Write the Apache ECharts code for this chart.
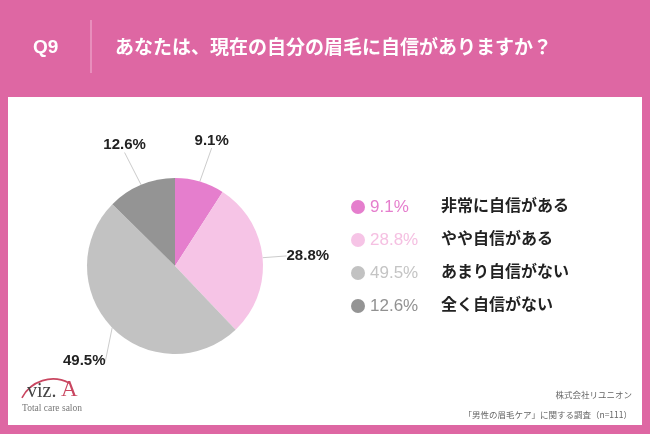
<!DOCTYPE html>
<html><head><meta charset="utf-8">
<script src="https://cdn.jsdelivr.net/npm/echarts@6/dist/echarts.min.js"></script>
<style>html,body{margin:0;padding:0;background:#fff}#c{width:650px;height:434px}</style>
</head><body><div id="c"></div>
<script>
var categories = ['非常に自信がある','やや自信がある','あまり自信がない','全く自信がない'];
var values = [9.1, 28.8, 49.5, 12.6];
var colors = ['#E57ECD','#F6C4E6','#C2C2C2','#949494'];
var legendPctColors = ['#E57ECD','#F5C0E2','#C4C4C4','#919191'];
var titleQ = 'Q9';
var titleText = 'あなたは、現在の自分の眉毛に自信がありますか？';
var note1 = '株式会社リユニオン';
var note2 = '「男性の眉毛ケア」に関する調査（n=111）';

var JP = "'Liberation Sans','Noto Sans CJK JP',sans-serif";
var chart = echarts.init(document.getElementById('c'), null, {renderer:'canvas'});

var rich = {};
values.forEach(function(v,i){
  rich['p'+i] = {color: legendPctColors[i], fontSize: 17, width: 71, fontFamily: JP, lineHeight: 20};
});
rich.n = {color:'#222', fontSize: 16, fontWeight:'bold', fontFamily: JP, lineHeight: 20};

var lineLens = [35, 19, 35, 35];

chart.setOption({
  animation: false,
  graphic: [
    {type:'rect', shape:{x:0,y:0,width:650,height:434}, style:{fill:'#DE67A3'}, z:-10},
    {type:'rect', shape:{x:8,y:97,width:634,height:328}, style:{fill:'#ffffff'}, z:-9},
    {type:'text', left:33, top:38, style:{text:titleQ, fill:'#fff', font:"bold 19px "+JP}},
    {type:'line', shape:{x1:91,y1:20,x2:91,y2:73}, style:{stroke:'#F2B6D5', lineWidth:1}},
    {type:'text', left:115, top:37, style:{text:titleText, fill:'#fff', font:"bold 19px 'Noto Sans CJK JP',sans-serif"}},
    {type:'text', right:18, top:391, style:{text:note1, fill:'#666', font:"8.5px 'Noto Sans CJK JP',sans-serif", align:'right'}},
    {type:'text', right:18, top:411, style:{text:note2, fill:'#666', font:"8.5px 'Noto Sans CJK JP',sans-serif", align:'right'}},
    {type:'arc', shape:{cx:53,cy:414,r:35,startAngle:3.62,endAngle:5.2,clockwise:true}, style:{stroke:'#C94660', lineWidth:1.6, fill:null}},
    {type:'text', left:27, top:382, style:{text:'viz.', fill:'#444', font:"20px 'Liberation Serif',serif"}},
    {type:'text', left:61, top:378, style:{text:'A', fill:'#C94660', font:"23px 'Liberation Serif',serif"}},
    {type:'text', left:22, top:403, style:{text:'Total care salon', fill:'#777', font:"9.5px 'Liberation Serif',serif"}}
  ],
  legend: {
    orient:'vertical', left:346, top:192, icon:'circle', itemWidth:14, itemHeight:14, itemGap:13,
    selectedMode:false,
    data: categories,
    formatter: function(name){
      var i = categories.indexOf(name);
      return '{p'+i+'|'+values[i].toFixed(1)+'%}{n|'+name+'}';
    },
    textStyle:{rich:rich, lineHeight:20, height:20}
  },
  series: [{
    type:'pie',
    center:[175,266],
    radius:88,
    startAngle:90,
    clockwise:true,
    data: values.map(function(v,i){
      return {name:categories[i], value:v, itemStyle:{color:colors[i]}, labelLine:{length:lineLens[i], length2:0}};
    }),
    label:{
      show:true,
      formatter: function(p){ return p.value.toFixed(1)+'%'; },
      color:'#222', fontSize:15, fontWeight:'bold', fontFamily:JP
    },
    labelLine:{show:true, lineStyle:{color:'#cccccc', width:1}},
    labelLayout: function(p){
      var pts = p.labelLinePoints;
      if(!pts || pts.length<2) return {};
      var s = pts[0], e = pts[pts.length-1];
      var dx = e[0]-s[0], dy = e[1]-s[1];
      if(Math.abs(dx) > Math.abs(dy)*1.5){
        return {x: e[0] + (dx>0?5:-5), y: e[1], align: dx>0?'left':'right', verticalAlign:'middle'};
      }
      return {x: e[0] + (dx>0?2:-3), y: e[1] + (dy>0?1:0), align:'center', verticalAlign: dy>0?'top':'bottom'};
    },
    emphasis:{disabled:true}
  }]
});
</script></body></html>
